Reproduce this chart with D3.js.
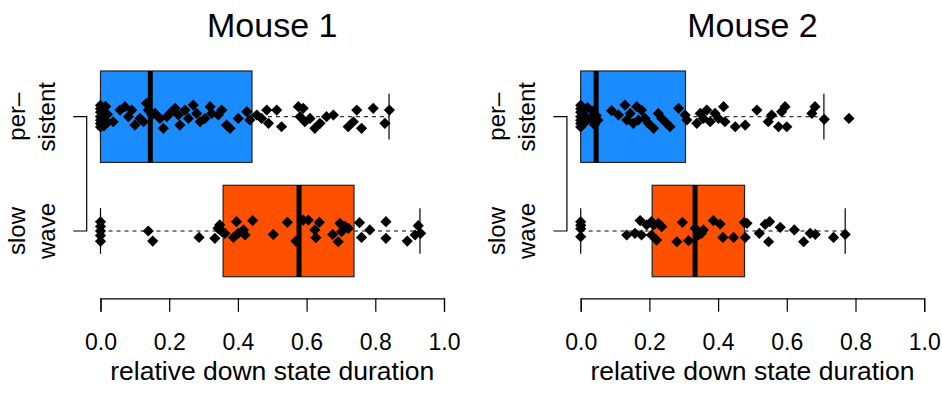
<!DOCTYPE html>
<html>
<head>
<meta charset="utf-8">
<script src="https://cdn.jsdelivr.net/npm/d3@7"></script>
<style>
  body { margin: 0; background: #fff; }
  svg text { font-family: "Liberation Sans", Arial, Helvetica, sans-serif; fill: #000; }
</style>
</head>
<body>
<div id="chart"></div>
<script>
// Panels and groups
const panelTitles = ["Mouse 1", "Mouse 2"];
const groups = ["persistent", "slow wave"];
const groupLabels = [["per\u2013", "sistent"], ["slow", "wave"]];
const xTicks = [0, 0.2, 0.4, 0.6, 0.8, 1.0];
const xLabel = "relative down state duration";

// box statistics: [persistent, slow wave] per mouse
const whiskerLo = [[0.0, 0.0], [0.0, 0.0]];
const q1 = [[0.0, 0.357], [0.0, 0.208]];
const medians = [[0.145, 0.578], [0.045, 0.333]];
const q3 = [[0.441, 0.738], [0.305, 0.477]];
const whiskerHi = [[0.84, 0.93], [0.708, 0.77]];

// jittered points: [value, jitter offset in category units]
const mouse1Persistent = [
  [0, -0.10], [0, -0.07], [0, -0.04], [0, 0.0], [0, 0.03], [0, 0.06], [0, 0.09],
  [0.005, -0.05], [0.01, 0.02], [0.01, 0.08], [0.015, -0.09], [0.02, 0.05], [0.02, -0.02],
  [0.037, 0.044], [0.057, -0.058], [0.071, -0.088], [0.081, 0], [0.091, -0.058], [0.100, 0.073],
  [0.115, 0.015], [0.125, 0.044], [0.134, -0.117], [0.139, -0.058], [0.149, -0.015], [0.159, -0.029],
  [0.173, 0.015], [0.183, 0.102], [0.193, 0], [0.207, -0.044], [0.217, -0.073], [0.227, -0.015],
  [0.231, 0.073], [0.246, -0.058], [0.256, 0.015], [0.270, -0.102], [0.280, -0.029], [0.290, 0.044],
  [0.304, 0.015], [0.319, -0.088], [0.324, -0.029], [0.343, -0.015], [0.353, -0.058], [0.367, 0.073],
  [0.377, 0.102], [0.401, 0.015], [0.426, -0.044], [0.435, 0.029], [0.455, -0.015], [0.469, 0.015],
  [0.484, -0.058], [0.489, 0.058], [0.513, -0.058], [0.527, 0.088], [0.576, -0.088], [0.581, 0],
  [0.590, -0.073], [0.595, 0.044], [0.610, 0.015], [0.624, 0.102], [0.639, 0.058], [0.658, 0],
  [0.678, -0.015], [0.721, 0.088], [0.736, 0.044], [0.746, -0.058], [0.760, 0.102], [0.794, -0.073],
  [0.828, 0.058], [0.841, -0.058]
];
const mouse1Slow = [
  [0, -0.08], [0, -0.04], [0, 0.0], [0, 0.04], [0, 0.09],
  [0.139, 0], [0.152, 0.088], [0.287, 0.056], [0.333, 0.064], [0.342, -0.023], [0.347, -0.053],
  [0.353, 0.006], [0.362, 0.02], [0.387, 0.056], [0.396, -0.082], [0.401, 0.02], [0.416, -0.009],
  [0.421, 0.035], [0.443, -0.091], [0.503, 0.03], [0.544, -0.076], [0.569, 0.088], [0.590, -0.096],
  [0.605, -0.096], [0.624, -0.009], [0.627, 0.058], [0.637, -0.076], [0.676, 0.03], [0.692, 0.094],
  [0.697, -0.067], [0.702, 0.006], [0.712, -0.041], [0.722, -0.023], [0.754, -0.073], [0.760, 0.056],
  [0.784, -0.009], [0.831, -0.082], [0.831, 0.064], [0.893, 0.088], [0.916, 0.035], [0.925, -0.047],
  [0.932, 0.02]
];
const mouse2Persistent = [
  [0, -0.10], [0, -0.07], [0, -0.04], [0, 0.0], [0, 0.03], [0, 0.06], [0, 0.09],
  [0.008, -0.02], [0.012, 0.05], [0.02, -0.08], [0.03, 0.01], [0.035, -0.05], [0.04, 0.07],
  [0.045, -0.01], [0.05, 0.03],
  [0.090, -0.053], [0.110, -0.015], [0.129, -0.102], [0.134, 0.029], [0.144, -0.029], [0.153, 0.058],
  [0.163, -0.088], [0.168, 0.029], [0.177, -0.058], [0.187, 0.015], [0.197, 0.058], [0.212, 0.102],
  [0.226, -0.029], [0.236, 0.015], [0.250, 0.058], [0.260, 0.088], [0.285, -0.073], [0.304, -0.015],
  [0.309, 0.029], [0.338, 0.058], [0.348, -0.029], [0.357, 0.015], [0.367, -0.058], [0.377, 0.044],
  [0.391, -0.029], [0.401, 0.015], [0.416, -0.088], [0.420, 0.044], [0.450, 0.088], [0.479, 0.073],
  [0.513, -0.058], [0.546, 0.044], [0.556, -0.015], [0.576, 0.088], [0.585, -0.044], [0.595, -0.088],
  [0.600, 0.088], [0.673, -0.029], [0.682, -0.088], [0.709, 0.023], [0.781, 0.015]
];
const mouse2Slow = [
  [0, -0.08], [0, -0.05], [0, -0.02], [0, 0.05],
  [0.134, 0.035], [0.158, 0.02], [0.173, -0.091], [0.177, 0.035], [0.192, -0.053], [0.206, -0.082],
  [0.206, 0.035], [0.212, -0.053], [0.221, 0.079], [0.226, -0.067], [0.236, -0.038], [0.280, 0.094],
  [0.296, -0.076], [0.314, 0.085], [0.333, -0.023], [0.343, 0.035], [0.352, 0.02], [0.357, -0.009],
  [0.386, -0.091], [0.406, -0.061], [0.414, 0.056], [0.445, 0.056], [0.476, -0.076], [0.479, 0.056],
  [0.484, -0.067], [0.520, 0.02], [0.537, -0.058], [0.547, 0.094], [0.550, -0.082], [0.581, -0.032],
  [0.622, -0.009], [0.649, 0.094], [0.668, 0.02], [0.683, 0.03], [0.736, 0.056], [0.770, 0.03]
];
const points = [[mouse1Persistent, mouse1Slow], [mouse2Persistent, mouse2Slow]];
const boxColors = ["#1a8cff", "#ff5000"];

const W = 942, H = 395;
const plotLeft = [100.5, 580.7];
const plotW = 343.5;
const yTop = 116.7, yBottom = 231;

const svg = d3.select("#chart").append("svg")
  .attr("width", W)
  .attr("height", H);

// R pch 18: a square diamond
const diamond = d3.symbol().type(d3.symbolDiamond2 || d3.symbolSquare).size(80);
const diamondRot = d3.symbolDiamond2 ? "" : " rotate(45)";

panelTitles.forEach((title, p) => {
  const x = d3.scaleLinear().domain([0, 1]).range([plotLeft[p], plotLeft[p] + plotW]);
  const y = d3.scaleLinear().domain([0, 1]).range([yTop, yBottom]);
  const unit = yBottom - yTop;
  const g = svg.append("g");

  // title
  g.append("text")
    .attr("x", x(0.5))
    .attr("y", 37)
    .attr("text-anchor", "middle")
    .style("font-size", "34px")
    .text(title);

  // boxes
  groups.forEach((grp, i) => {
    const cy = y(i);
    const half = 0.4 * unit, cap = 0.2 * unit;

    // whiskers
    [[whiskerLo[p][i], q1[p][i]], [q3[p][i], whiskerHi[p][i]]].forEach(([a, b]) => {
      g.append("line")
        .attr("x1", x(a)).attr("x2", x(b))
        .attr("y1", cy).attr("y2", cy)
        .attr("stroke", "#000")
        .attr("stroke-width", 1)
        .attr("stroke-dasharray", "4,4");
    });
    [whiskerLo[p][i], whiskerHi[p][i]].forEach(v => {
      g.append("line")
        .attr("x1", x(v)).attr("x2", x(v))
        .attr("y1", cy - cap).attr("y2", cy + cap)
        .attr("stroke", "#000")
        .attr("stroke-width", 1.2);
    });

    g.append("rect")
      .attr("x", x(q1[p][i]))
      .attr("y", cy - half)
      .attr("width", x(q3[p][i]) - x(q1[p][i]))
      .attr("height", 2 * half)
      .attr("fill", boxColors[i])
      .attr("stroke", "#222")
      .attr("stroke-width", 1.2);

    g.append("line")
      .attr("x1", x(medians[p][i])).attr("x2", x(medians[p][i]))
      .attr("y1", cy - half).attr("y2", cy + half)
      .attr("stroke", "#000")
      .attr("stroke-width", 5);

    // jittered points
    g.selectAll(null)
      .data(points[p][i])
      .enter()
      .append("path")
      .attr("d", diamond)
      .attr("transform", d => "translate(" + x(d[0]) + "," + (cy + d[1] * unit) + ")" + diamondRot)
      .attr("fill", "#000");
  });

  // y axis bracket (no labels, R style)
  const ax = plotLeft[p] - 13.8;
  g.append("path")
    .attr("d", "M" + (ax - 13.5) + "," + y(0) + "H" + ax + "V" + y(1) + "H" + (ax - 13.5))
    .attr("fill", "none")
    .attr("stroke", "#000")
    .attr("stroke-width", 1.2);

  groupLabels.forEach((lines, i) => {
    lines.forEach((txt, k) => {
      const bx = ax - 62 + k * 30.5;
      g.append("text")
        .attr("transform", "translate(" + bx + "," + y(i) + ") rotate(-90)")
        .attr("text-anchor", "middle")
        .style("font-size", "24px")
        .text(txt);
    });
  });

  // x axis
  const xAxis = g.append("g")
    .attr("transform", "translate(0,298.3)")
    .call(d3.axisBottom(x).tickValues(xTicks).tickSize(13.4).tickPadding(22).tickFormat(d3.format(".1f")));
  xAxis.select(".domain").attr("stroke", "#000").attr("stroke-width", 1.2);
  xAxis.selectAll(".tick line").attr("stroke", "#000").attr("stroke-width", 1.2);
  xAxis.selectAll(".tick text").style("font-size", "23px");

  g.append("text")
    .attr("x", x(0.5))
    .attr("y", 380)
    .attr("text-anchor", "middle")
    .style("font-size", "26.5px")
    .text(xLabel);
});
</script>
</body>
</html>
